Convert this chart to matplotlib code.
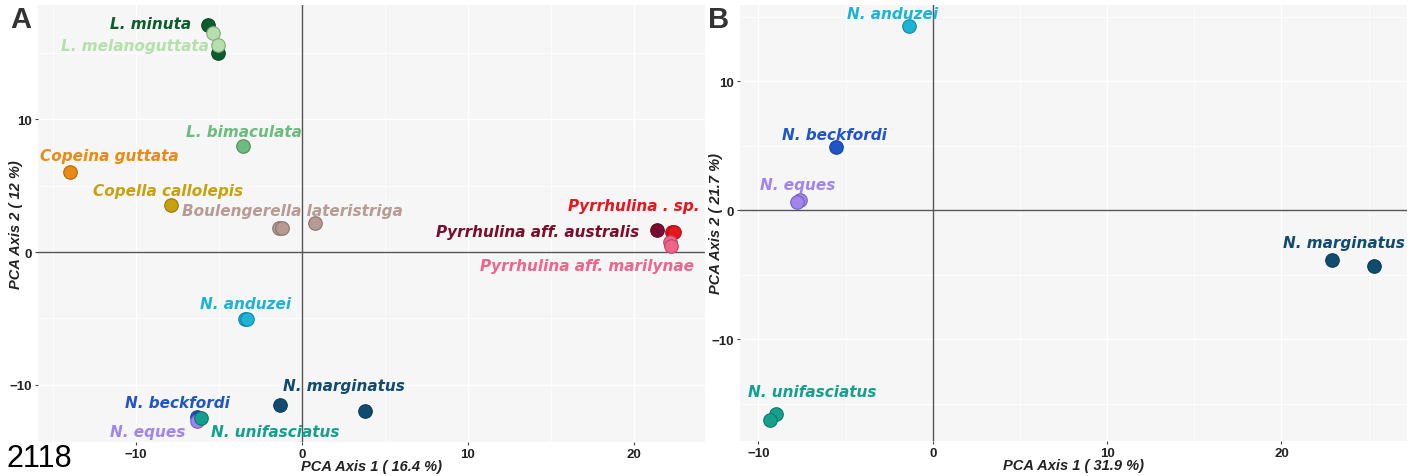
import matplotlib
matplotlib.use("Agg")
import matplotlib.pyplot as plt
import matplotlib.colors as mcolors
import numpy as np

# ---- Panel A: all species, PCA scores (axis 1, axis 2) ----
a_species = ["L. minuta", "L. melanoguttata", "L. bimaculata", "Copeina guttata",
             "Copella callolepis", "Boulengerella lateristriga", "Pyrrhulina . sp.",
             "Pyrrhulina aff. australis", "Pyrrhulina aff. marilynae", "N. anduzei",
             "N. marginatus", "N. beckfordi", "N. eques", "N. unifasciatus"]
a_x = {
    "L. minuta": [-5.66, -5.06],
    "L. melanoguttata": [-5.36, -5.06],
    "L. bimaculata": [-3.55],
    "Copeina guttata": [-14.0],
    "Copella callolepis": [-7.9],
    "Boulengerella lateristriga": [-1.4, -1.2, 0.8],
    "Pyrrhulina . sp.": [22.3, 22.45],
    "Pyrrhulina aff. australis": [21.4],
    "Pyrrhulina aff. marilynae": [22.2, 22.25],
    "N. anduzei": [-3.45, -3.3],
    "N. marginatus": [-1.3, 3.8],
    "N. beckfordi": [-6.3, -6.2],
    "N. eques": [-6.3],
    "N. unifasciatus": [-6.1],
}
a_y = {
    "L. minuta": [17.1, 15.0],
    "L. melanoguttata": [16.5, 15.6],
    "L. bimaculata": [8.0],
    "Copeina guttata": [6.0],
    "Copella callolepis": [3.55],
    "Boulengerella lateristriga": [1.8, 1.8, 2.2],
    "Pyrrhulina . sp.": [1.5, 1.5],
    "Pyrrhulina aff. australis": [1.66],
    "Pyrrhulina aff. marilynae": [0.75, 0.45],
    "N. anduzei": [-5.06, -5.06],
    "N. marginatus": [-11.5, -12.0],
    "N. beckfordi": [-12.4, -12.5],
    "N. eques": [-12.7],
    "N. unifasciatus": [-12.5],
}

# ---- Panel B: Nannostomus only ----
b_species = ["N. anduzei", "N. beckfordi", "N. eques", "N. marginatus", "N. unifasciatus"]
b_x = {
    "N. anduzei": [-1.38],
    "N. beckfordi": [-5.56],
    "N. eques": [-7.6, -7.8],
    "N. marginatus": [22.9, 25.3],
    "N. unifasciatus": [-9.0, -9.34],
}
b_y = {
    "N. anduzei": [14.26],
    "N. beckfordi": [4.88],
    "N. eques": [0.78, 0.62],
    "N. marginatus": [-3.88, -4.34],
    "N. unifasciatus": [-15.8, -16.3],
}

colors = {
    "L. minuta": "#0b5e2b",
    "L. melanoguttata": "#b5e0ab",
    "L. bimaculata": "#6dbb7f",
    "Copeina guttata": "#e88a14",
    "Copella callolepis": "#c9a00e",
    "Boulengerella lateristriga": "#b79a93",
    "Pyrrhulina . sp.": "#e8141e",
    "Pyrrhulina aff. australis": "#7c0c2e",
    "Pyrrhulina aff. marilynae": "#f0648c",
    "N. anduzei": "#1cb4d6",
    "N. marginatus": "#104c70",
    "N. beckfordi": "#1f55c8",
    "N. eques": "#a084f0",
    "N. unifasciatus": "#13a08c",
}

# label anchor positions (data coordinates)
a_label_pos = {
    "L. minuta": (-9.1, 17.2),
    "L. melanoguttata": (-10.06, 15.55),
    "L. bimaculata": (-3.5, 9.06),
    "Copeina guttata": (-11.6, 7.25),
    "Copella callolepis": (-8.07, 4.6),
    "Boulengerella lateristriga": (-0.54, 3.1),
    "Pyrrhulina . sp.": (20.0, 3.47),
    "Pyrrhulina aff. australis": (14.2, 1.58),
    "Pyrrhulina aff. marilynae": (17.2, -0.98),
    "N. anduzei": (-3.37, -3.85),
    "N. marginatus": (2.53, -10.04),
    "N. beckfordi": (-7.47, -11.3),
    "N. eques": (-9.28, -13.5),
    "N. unifasciatus": (-1.63, -13.5),
}
b_label_pos = {
    "N. anduzei": (-2.29, 15.27),
    "N. beckfordi": (-5.62, 5.89),
    "N. eques": (-7.74, 2.02),
    "N. marginatus": (23.6, -2.48),
    "N. unifasciatus": (-6.93, -14.1),
}

W, H = 1421, 477
fig = plt.figure(figsize=(W / 100, H / 100), dpi=100)
fig.patch.set_facecolor("white")


def px_axes(left, top, right, bottom):
    return fig.add_axes([left / W, 1 - bottom / H, (right - left) / W, (bottom - top) / H])


def darker(c, f=0.75):
    r, g, b = mcolors.to_rgb(c)
    return (r * f, g * f, b * f)


def style(ax, xlim, ylim, xlabel, ylabel, xlab_pos, ylab_pos):
    ax.set_facecolor("#f6f6f6")
    ax.set_xticks([-10, 0, 10, 20])
    ax.set_yticks([-10, 0, 10])
    ax.set_xticks([-15, -5, 5, 15, 25], minor=True)
    ax.set_yticks([-15, -5, 5, 15], minor=True)
    ax.set_xlim(*xlim)
    ax.set_ylim(*ylim)
    ax.grid(True, which="major", color="white", lw=0.9)
    ax.grid(True, which="minor", color="white", lw=0.5)
    ax.set_axisbelow(True)
    for s in ax.spines.values():
        s.set_visible(False)
    ax.tick_params(which="minor", length=0)
    ax.tick_params(which="major", length=2.5, pad=2, color="#444444", labelsize=9.5,
                   labelcolor="#222222")
    for lbl in ax.get_xticklabels() + ax.get_yticklabels():
        lbl.set_fontweight("bold")
        lbl.set_family("Liberation Sans")
    ax.axhline(0, color="#555555", lw=1.0, zorder=1)
    ax.axvline(0, color="#555555", lw=1.0, zorder=1)
    ax.set_xlabel(xlabel, fontsize=10.5, fontweight="bold", fontstyle="italic",
                  family="Liberation Sans", color="#222222")
    ax.set_ylabel(ylabel, fontsize=10.5, fontweight="bold", fontstyle="italic",
                  family="Liberation Sans", color="#222222")
    ax.xaxis.set_label_coords(0.5, xlab_pos)
    ax.yaxis.set_label_coords(ylab_pos, 0.5)


def draw(ax, species, xs, ys, label_pos):
    for sp in species:
        c = colors[sp]
        ax.scatter(xs[sp], ys[sp], s=95, color=c, edgecolor=darker(c),
                   linewidth=0.8, zorder=3)
        lx, ly = label_pos[sp]
        ax.text(lx, ly, sp, color=c, fontsize=11, fontweight="bold",
                fontstyle="italic", family="DejaVu Sans", ha="center",
                va="center", zorder=4)


axA = px_axes(38, 6, 705, 443)
style(axA, (-15.9, 24.3), (-14.3, 18.6), "PCA Axis 1 ( 16.4 %)", "PCA Axis 2 ( 12 %)",
      -0.038, -0.022)
draw(axA, a_species, a_x, a_y, a_label_pos)

axB = px_axes(740, 6, 1407, 442)
style(axB, (-11.06, 27.2), (-17.9, 15.9), "PCA Axis 1 ( 31.9 %)", "PCA Axis 2 ( 21.7 %)",
      -0.038, -0.025)
draw(axB, b_species, b_x, b_y, b_label_pos)

fig.text(10 / W, 1 - 20 / H, "A", fontsize=21, fontweight="bold", color="#333333",
         family="Liberation Sans", ha="left", va="center")
fig.text(708 / W, 1 - 20 / H, "B", fontsize=21, fontweight="bold", color="#333333",
         family="Liberation Sans", ha="left", va="center")
fig.text(7 / W, 3 / H, "2118", fontsize=22, color="black",
         family="Liberation Sans", ha="left", va="bottom")

fig.savefig("out.png", dpi=100)
